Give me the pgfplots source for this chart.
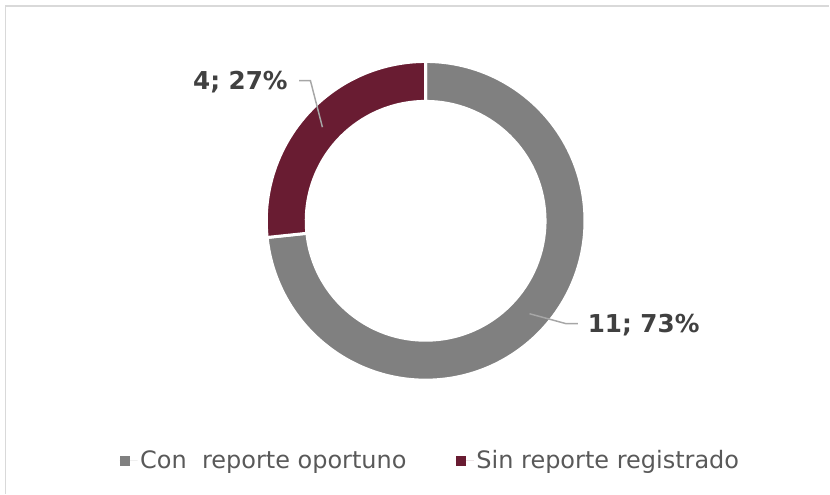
\documentclass[border=0pt]{standalone}
\usepackage{pgfplots}
\pgfplotsset{compat=1.18}
\usepackage{pgfplotstable}
\usepackage{fontspec}
\setmainfont{DejaVu Sans}
\definecolor{slicegray}{HTML}{808080}
\definecolor{guinda}{HTML}{691C32}
\definecolor{labeltext}{HTML}{404040}
\definecolor{legtext}{HTML}{595959}
\definecolor{leadergray}{HTML}{A6A6A6}
\definecolor{framegray}{HTML}{D9D9D9}
\pgfplotstableread{
label value
Con 11
Sin 4
}\piedata
\begin{document}
\begin{tikzpicture}
\pgfplotstablegetelem{0}{value}\of\piedata \let\va\pgfplotsretval
\pgfplotstablegetelem{1}{value}\of\piedata \let\vb\pgfplotsretval
\pgfmathsetmacro\angA{90-360*\va/(\va+\vb)}
\pgfmathsetmacro\angB{\angA-360*\vb/(\va+\vb)}
\begin{axis}[
 width=622.5pt, height=370.5pt, scale only axis,
 xmin=0, xmax=830, ymin=0, ymax=494,
 hide axis, clip=false,
 legend columns=2,
 legend style={at={(0.5193,0.0668)}, anchor=center, draw=none, fill=none,
   font=\fontsize{18}{21}\selectfont, text=legtext,
   /tikz/every even column/.append style={column sep=35pt}},
 legend image code/.code={\fill[#1] (0pt,-3.75pt) rectangle (7.5pt,3.75pt); \path (0pt,0pt) -- (13.5pt,0pt);},
]
\path (axis cs:0,0) rectangle (axis cs:830,494);
\draw[framegray, line width=1.1pt] (axis cs:5.5,0) -- (axis cs:5.5,488) -- (axis cs:830,488);

\filldraw[fill=slicegray, draw=white, line width=2.25pt]
 (axis cs:426,273) ++(90:119.625pt) arc[start angle=90, end angle=\angA, radius=119.625pt]
 -- ++(\angA:-30pt) arc[start angle=\angA, end angle=90, radius=89.625pt] -- cycle;
\filldraw[fill=guinda, draw=white, line width=2.25pt]
 (axis cs:426,273) ++(\angA:119.625pt) arc[start angle=\angA, end angle=\angB, radius=119.625pt]
 -- ++(\angB:-30pt) arc[start angle=\angB, end angle=\angA, radius=89.625pt] -- cycle;

\addplot[leadergray, line width=1.1pt, forget plot] coordinates {(530,180) (566.7,170) (578.3,170)};
\addplot[leadergray, line width=1.1pt, forget plot] coordinates {(299.3,413.3) (310.7,413.3) (322.7,366.7)};

\node[anchor=base west, inner sep=0pt, font=\fontsize{18.5}{22}\selectfont\bfseries, text=labeltext] at (axis cs:193,404) {4; 27\%};
\node[anchor=base west, inner sep=0pt, font=\fontsize{18.5}{22}\selectfont\bfseries, text=labeltext] at (axis cs:588,161) {11; 73\%};

\addlegendimage{fill=slicegray, draw=none}
\addlegendentry{Con\ \ reporte oportuno}
\addlegendimage{fill=guinda, draw=none}
\addlegendentry{Sin reporte registrado}
\end{axis}
\end{tikzpicture}
\end{document}
